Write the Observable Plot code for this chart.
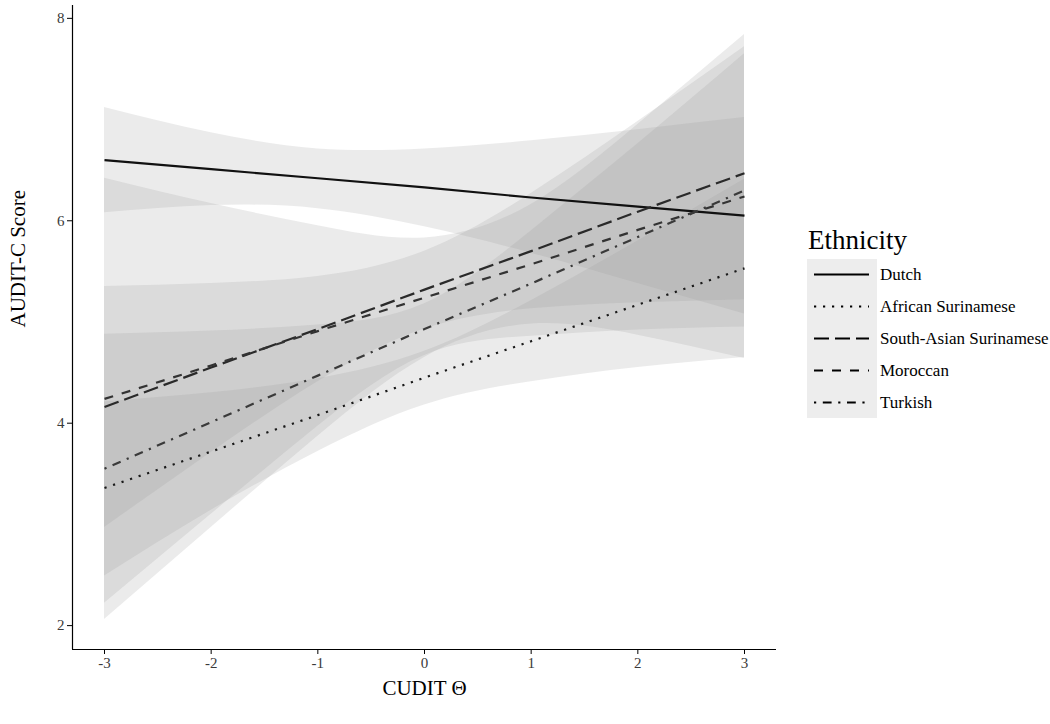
<!DOCTYPE html>
<html><head><meta charset="utf-8">
<script src="https://cdn.jsdelivr.net/npm/d3@7"></script>
<script src="https://cdn.jsdelivr.net/npm/@observablehq/plot@0.6"></script>
<style>
body{margin:0;background:#fff;font-family:"Liberation Serif","Times New Roman",serif;}
#wrap{position:relative;width:1050px;height:724px;}
</style></head><body><div id="wrap"></div>
<script>
// ---- data ----
const groups = ["Dutch","African Surinamese","South-Asian Surinamese","Moroccan","Turkish"];
const xValues = [-3,-2,-1,0,1,2,3];
const xTicks = [-3,-2,-1,0,1,2,3];
const yTicks = [2,4,6,8];

const fitDutch   = [6.60,6.51,6.42,6.33,6.23,6.14,6.05];
const lowDutch   = [6.08,6.15,6.12,5.94,5.68,5.38,5.08];
const highDutch  = [7.12,6.87,6.71,6.71,6.79,6.90,7.02];

const fitAfrican  = [3.36,3.72,4.08,4.45,4.81,5.17,5.53];
const lowAfrican  = [2.49,3.14,3.72,4.18,4.41,4.55,4.65];
const highAfrican = [4.21,4.30,4.44,4.71,5.21,5.80,6.41];

const fitSouthAsian  = [4.16,4.55,4.93,5.32,5.70,6.09,6.47];
const lowSouthAsian  = [2.97,3.71,4.41,4.93,5.13,5.19,5.22];
const highSouthAsian = [5.35,5.38,5.45,5.70,6.27,6.98,7.72];

const fitMoroccan  = [4.24,4.57,4.91,5.24,5.57,5.91,6.24];
const lowMoroccan  = [2.06,2.97,3.87,4.65,4.98,4.87,4.64];
const highMoroccan = [6.42,6.17,5.95,5.83,6.16,6.95,7.84];

const fitTurkish  = [3.55,4.01,4.47,4.93,5.38,5.84,6.30];
const lowTurkish  = [2.22,3.10,3.97,4.67,4.86,4.92,4.95];
const highTurkish = [4.88,4.91,4.97,5.18,5.90,6.76,7.65];

// ---- styles ----
const fits  = [fitDutch, fitAfrican, fitSouthAsian, fitMoroccan, fitTurkish];
const lows  = [lowDutch, lowAfrican, lowSouthAsian, lowMoroccan, lowTurkish];
const highs = [highDutch, highAfrican, highSouthAsian, highMoroccan, highTurkish];
const lineColors = ["#111111","#1a1a1a","#2a2a2a","#333333","#3a3a3a"];
const dashes = [null,"2.2,6.8","15,6","9,9","2.2,6.6,8.8,6.6"];
const xDomain = [-3.3, 3.3];
const yDomain = [1.764, 8.127];

const rows = [];
groups.forEach((g,i)=>xValues.forEach((x,j)=>rows.push({group:g, x, fit:fits[i][j], lo:lows[i][j], hi:highs[i][j]})));

const chart = Plot.plot({
  width:1050, height:724,
  marginLeft:72, marginRight:274, marginTop:5, marginBottom:75,
  style:{fontFamily:'"Liberation Serif","Times New Roman",serif', background:"white", color:"black"},
  x:{domain:xDomain},
  y:{domain:yDomain},
  marks:[
    Plot.areaY(rows,{x:"x", y1:"lo", y2:"hi", z:"group", fill:"#999999", fillOpacity:0.2, curve:"natural"}),
    ...groups.map((g,i)=>Plot.line(rows.filter(r=>r.group===g),{
      x:"x", y:"fit", stroke:lineColors[i], strokeWidth:2.2,
      strokeDasharray:dashes[i] || undefined, strokeLinecap:"butt"})),
    Plot.ruleX([xDomain[0]],{stroke:"black", strokeWidth:1.2}),
    Plot.ruleY([yDomain[0]],{stroke:"black", strokeWidth:1.2}),
    Plot.axisX({ticks:xTicks, tickSize:5, tickPadding:3, tickFormat:d=>String(d), fontSize:15, fill:"#3a3a3a", stroke:"black", label:null}),
    Plot.axisY({ticks:yTicks, tickSize:5, tickPadding:3, tickFormat:d=>String(d), fontSize:15, fill:"#3a3a3a", stroke:"black", label:null}),
    Plot.text(["AUDIT-C Score"],{text:d=>d, frameAnchor:"left", rotate:-90, dx:-54, fontSize:21, fill:"black"}),
    Plot.text(["CUDIT \u0398"],{text:d=>d, frameAnchor:"bottom", dy:45, fontSize:21, fill:"black"})
  ]
});
document.getElementById("wrap").appendChild(chart);

// ---- legend ----
const leg = d3.select("#wrap").append("svg")
  .attr("width",250).attr("height",200)
  .style("position","absolute").style("left","800px").style("top","225px")
  .style("font-family",'"Liberation Serif","Times New Roman",serif');
leg.append("text").attr("x",8).attr("y",15).attr("dominant-baseline","central")
  .attr("font-size",27).text("Ethnicity");
leg.append("rect").attr("x",7).attr("y",34).attr("width",70).attr("height",159).attr("fill","#ededed");
groups.forEach((g,i)=>{
  const cy = 49.5 + i*32;
  leg.append("line").attr("x1",14).attr("x2",69).attr("y1",cy).attr("y2",cy)
    .attr("stroke","black").attr("stroke-width",2.2)
    .attr("stroke-dasharray",dashes[i]);
  leg.append("text").attr("x",80).attr("y",cy).attr("dominant-baseline","central")
    .attr("font-size",17).text(g);
});
</script></body></html>
